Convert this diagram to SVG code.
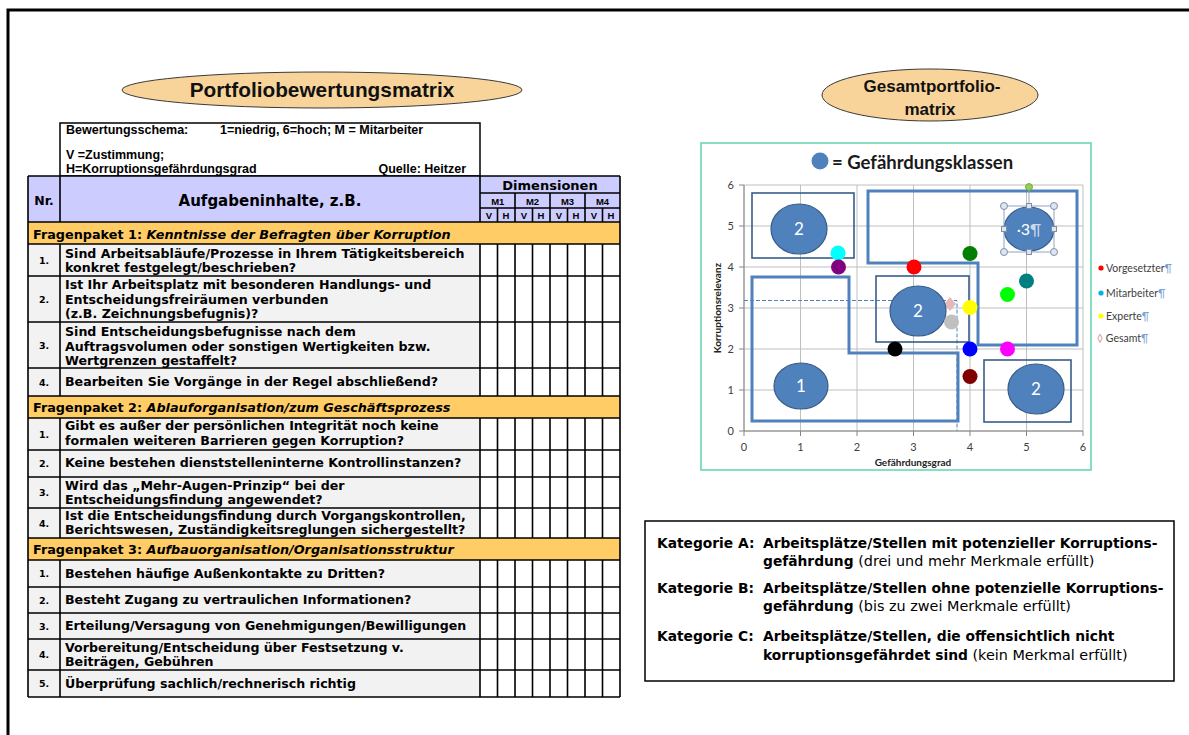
<svg xmlns="http://www.w3.org/2000/svg" width="1189" height="735" viewBox="0 0 1189 735">
<style>
.frame{fill:none;stroke:#000;stroke-width:3}
.ell{fill:#F8D49B;stroke:#3a3a3a;stroke-width:1}
.etitle{font-family:"Liberation Sans",Arial,sans-serif;font-weight:bold;fill:#111;text-anchor:middle}
.hdr{font-family:"Liberation Sans",Arial,sans-serif;font-weight:bold;font-size:12.5px;fill:#000}
.q{font-family:"DejaVu Sans",Verdana,sans-serif;font-weight:bold;font-size:12.6px;fill:#000}
.fp{font-family:"DejaVu Sans",Verdana,sans-serif;font-weight:bold;font-size:12.8px;fill:#000}
.nr{font-family:"DejaVu Sans",Verdana,sans-serif;font-weight:bold;font-size:9.5px;fill:#000;text-anchor:middle}
.small{font-family:"Liberation Sans",Arial,sans-serif;font-weight:bold;font-size:9.5px;fill:#000;text-anchor:middle}
.tl{fill:none;stroke:#000;stroke-width:1.6}
.grid{fill:none;stroke:#BFBFBF;stroke-width:1}
.ax{font-family:Lato,"Liberation Sans",sans-serif;font-size:11px;fill:#404040}
.axt{font-family:Lato,"Liberation Sans",sans-serif;font-size:10px;font-weight:bold;fill:#222;text-anchor:middle}
.thick{fill:none;stroke:#4F81BD;stroke-width:3}
.thin{fill:none;stroke:#385D8A;stroke-width:1.6}
.bub{fill:#4F81BD;stroke:#385D8A;stroke-width:1.2}
.bt{font-family:Lato,"Liberation Sans",sans-serif;font-size:17px;fill:#fff;text-anchor:middle}
.lg{font-family:Lato,"Liberation Sans",sans-serif;font-size:10.5px;fill:#404040}
.pm{fill:#7BA3D6}
.cat{font-family:"DejaVu Sans",Verdana,sans-serif;font-size:13.8px;fill:#000}
.reg{font-size:14.4px}
.b{font-weight:bold}
.hnd{fill:#DCE6F2;stroke:#7F8FA6;stroke-width:1}
</style>

<g id="frame">
<path class="frame" d="M8 735V10H1189"/>
</g>

<g id="title-left">
<ellipse class="ell" cx="322" cy="90" rx="200" ry="18"/>
<text class="etitle" x="322" y="97" font-size="20.8">Portfoliobewertungsmatrix</text>
</g>

<g id="title-right">
<ellipse class="ell" cx="930" cy="95" rx="108" ry="26"/>
<text class="etitle" x="932" y="92" font-size="17">Gesamtportfolio-</text>
<text class="etitle" x="930" y="115" font-size="17">matrix</text>
</g>

<g id="table">
<rect x="60" y="123" width="420" height="53" fill="#fff" stroke="#000" stroke-width="1.5"/>
<text class="hdr" x="66" y="134">Bewertungsschema:</text>
<text class="hdr" x="220" y="134">1=niedrig, 6=hoch; M = Mitarbeiter</text>
<text class="hdr" x="66" y="159">V =Zustimmung;</text>
<text class="hdr" x="66" y="173">H=Korruptionsgefährdungsgrad</text>
<text class="hdr" x="466" y="173" text-anchor="end">Quelle: Heitzer</text>

<rect x="28" y="176" width="592" height="46" fill="#CCCCFF"/>
<rect x="28" y="222" width="592" height="22" fill="#FFCC66"/>
<rect x="28" y="396" width="592" height="22" fill="#FFCC66"/>
<rect x="28" y="538" width="592" height="22" fill="#FFCC66"/>
<rect x="28" y="244" width="452" height="152" fill="#F2F2F2"/>
<rect x="28" y="418" width="452" height="120" fill="#F2F2F2"/>
<rect x="28" y="560" width="452" height="137" fill="#F2F2F2"/>
<rect x="480" y="244" width="140" height="152" fill="#fff"/>
<rect x="480" y="418" width="140" height="120" fill="#fff"/>
<rect x="480" y="560" width="140" height="137" fill="#fff"/>

<path class="tl" d="M28 176H620M28 222H620M28 244H620M28 276H620M28 322H620M28 368H620M28 396H620M28 418H620M28 450H620M28 477H620M28 508H620M28 538H620M28 560H620M28 587H620M28 613H620M28 639H620M28 670H620M28 697H620M480 193H620M480 208H620"/>
<path class="tl" d="M28 176V697M620 176V697"/>
<path class="tl" d="M60 176V222M480 176V222M515 193V222M550 193V222M585 193V222M497.5 208V222M532.5 208V222M567.5 208V222M602.5 208V222"/>
<path class="tl" d="M60 244V396M480 244V396M497.5 244V396M515 244V396M532.5 244V396M550 244V396M567.5 244V396M585 244V396M602.5 244V396
M60 418V538M480 418V538M497.5 418V538M515 418V538M532.5 418V538M550 418V538M567.5 418V538M585 418V538M602.5 418V538
M60 560V697M480 560V697M497.5 560V697M515 560V697M532.5 560V697M550 560V697M567.5 560V697M585 560V697M602.5 560V697"/>

<text class="q" x="44" y="205" text-anchor="middle" style="font-size:12.5px">Nr.</text>
<text class="q" x="270" y="206" text-anchor="middle" style="font-size:15px">Aufgabeninhalte, z.B.</text>
<text class="q" x="550" y="190" text-anchor="middle" style="font-size:13px">Dimensionen</text>
<text class="small" x="497.75" y="205">M1</text>
<text class="small" x="532.5" y="205">M2</text>
<text class="small" x="567.5" y="205">M3</text>
<text class="small" x="602.5" y="205">M4</text>
<text class="small" x="489" y="219">V</text><text class="small" x="506" y="219">H</text>
<text class="small" x="524" y="219">V</text><text class="small" x="541" y="219">H</text>
<text class="small" x="559" y="219">V</text><text class="small" x="576" y="219">H</text>
<text class="small" x="594" y="219">V</text><text class="small" x="611" y="219">H</text>

<text class="fp" x="33" y="239">Fragenpaket 1: <tspan font-style="italic">Kenntnisse der Befragten über Korruption</tspan></text>
<text class="nr" x="44" y="264">1.</text>
<text class="q" x="65" y="258">Sind Arbeitsabläufe/Prozesse in Ihrem Tätigkeitsbereich</text>
<text class="q" x="65" y="272">konkret festgelegt/beschrieben?</text>
<text class="nr" x="44" y="303">2.</text>
<text class="q" x="65" y="289">Ist Ihr Arbeitsplatz mit besonderen Handlungs- und</text>
<text class="q" x="65" y="304">Entscheidungsfreiräumen verbunden</text>
<text class="q" x="65" y="318">(z.B. Zeichnungsbefugnis)?</text>
<text class="nr" x="44" y="349">3.</text>
<text class="q" x="65" y="336">Sind Entscheidungsbefugnisse nach dem</text>
<text class="q" x="65" y="351">Auftragsvolumen oder sonstigen Wertigkeiten bzw.</text>
<text class="q" x="65" y="365">Wertgrenzen gestaffelt?</text>
<text class="nr" x="44" y="386">4.</text>
<text class="q" x="65" y="386">Bearbeiten Sie Vorgänge in der Regel abschließend?</text>

<text class="fp" x="33" y="412">Fragenpaket 2: <tspan font-style="italic">Ablauforganisation/zum Geschäftsprozess</tspan></text>
<text class="nr" x="44" y="438">1.</text>
<text class="q" x="65" y="430">Gibt es außer der persönlichen Integrität noch keine</text>
<text class="q" x="65" y="445">formalen weiteren Barrieren gegen Korruption?</text>
<text class="nr" x="44" y="467">2.</text>
<text class="q" x="65" y="467">Keine bestehen dienststelleninterne Kontrollinstanzen?</text>
<text class="nr" x="44" y="496">3.</text>
<text class="q" x="65" y="490">Wird das „Mehr-Augen-Prinzip“ bei der</text>
<text class="q" x="65" y="504">Entscheidungsfindung angewendet?</text>
<text class="nr" x="44" y="527">4.</text>
<text class="q" x="65" y="520">Ist die Entscheidungsfindung durch Vorgangskontrollen,</text>
<text class="q" x="65" y="534">Berichtswesen, Zuständigkeitsreglungen sichergestellt?</text>

<text class="fp" x="33" y="554">Fragenpaket 3: <tspan font-style="italic">Aufbauorganisation/Organisationsstruktur</tspan></text>
<text class="nr" x="44" y="577">1.</text>
<text class="q" x="65" y="578">Bestehen häufige Außenkontakte zu Dritten?</text>
<text class="nr" x="44" y="604">2.</text>
<text class="q" x="65" y="604">Besteht Zugang zu vertraulichen Informationen?</text>
<text class="nr" x="44" y="630">3.</text>
<text class="q" x="65" y="630">Erteilung/Versagung von Genehmigungen/Bewilligungen</text>
<text class="nr" x="44" y="658">4.</text>
<text class="q" x="65" y="652">Vorbereitung/Entscheidung über Festsetzung v.</text>
<text class="q" x="65" y="666">Beiträgen, Gebühren</text>
<text class="nr" x="44" y="687">5.</text>
<text class="q" x="65" y="688">Überprüfung sachlich/rechnerisch richtig</text>
</g>

<g id="chart">
<rect x="701" y="143" width="390" height="327" fill="#fff" stroke="#5FD3B0" stroke-width="1.5"/>
<circle cx="820" cy="161" r="8.5" fill="#4F81BD"/>
<text x="832" y="169" font-family="Lato,'Liberation Sans',sans-serif" font-weight="bold" font-size="18.5" fill="#1a1a1a">= Gefährdungsklassen</text>

<path class="grid" d="M744 185V431M800.5 185V431M857 185V431M913.5 185V431M970 185V431M1026.5 185V431M1083 185V431M744 185H1083M744 226H1083M744 267H1083M744 308H1083M744 349H1083M744 390H1083M744 431H1083"/>
<path fill="none" stroke="#868686" stroke-width="1" d="M744 185V431H1083M739 185H744M739 226H744M739 267H744M739 308H744M739 349H744M739 390H744M739 431H744M744 431V436M800.5 431V436M857 431V436M913.5 431V436M970 431V436M1026.5 431V436M1083 431V436"/>

<text class="ax" x="734" y="189" text-anchor="end">6</text>
<text class="ax" x="734" y="230" text-anchor="end">5</text>
<text class="ax" x="734" y="271" text-anchor="end">4</text>
<text class="ax" x="734" y="312" text-anchor="end">3</text>
<text class="ax" x="734" y="353" text-anchor="end">2</text>
<text class="ax" x="734" y="394" text-anchor="end">1</text>
<text class="ax" x="734" y="435" text-anchor="end">0</text>
<text class="ax" x="744" y="451" text-anchor="middle">0</text>
<text class="ax" x="800.5" y="451" text-anchor="middle">1</text>
<text class="ax" x="857" y="451" text-anchor="middle">2</text>
<text class="ax" x="913.5" y="451" text-anchor="middle">3</text>
<text class="ax" x="970" y="451" text-anchor="middle">4</text>
<text class="ax" x="1026.5" y="451" text-anchor="middle">5</text>
<text class="ax" x="1083" y="451" text-anchor="middle">6</text>
<text class="axt" x="913" y="466">Gefährdungsgrad</text>
<text class="axt" x="721" y="308" transform="rotate(-90 721 308)">Korruptionsrelevanz</text>

<path fill="none" stroke="#4F81BD" stroke-width="1" stroke-dasharray="4 2" d="M744 300.5H957V431"/>

<path class="thick" d="M868 191H1077V345H978V263H868Z"/>
<path class="thick" d="M752 277H849V353H958V421H752Z"/>
<rect class="thin" x="752" y="193" width="102" height="65"/>
<rect class="thin" x="876" y="276" width="93" height="66"/>
<rect class="thin" x="984" y="360" width="87" height="62"/>

<path d="M950 297L956 304L950 311L944 304Z" fill="#E6B9B8"/>

<ellipse class="bub" cx="799" cy="229" rx="28" ry="25"/>
<text class="bt" x="799" y="235">2</text>
<ellipse class="bub" cx="918" cy="311" rx="28" ry="25"/>
<text class="bt" x="918" y="317">2</text>
<ellipse class="bub" cx="801" cy="386" rx="27" ry="23"/>
<text class="bt" x="801" y="392">1</text>
<ellipse class="bub" cx="1036" cy="389" rx="28" ry="25"/>
<text class="bt" x="1036" y="395">2</text>
<ellipse class="bub" cx="1029" cy="229" rx="25" ry="22"/>
<text class="bt" x="1029" y="235" style="font-size:16px">·3<tspan fill="#C9D9EE">¶</tspan></text>

<g id="selection">
<rect x="1004" y="206" width="50" height="46" fill="none" stroke="#8FA3BF" stroke-width="1"/>
<path d="M1029 190V206" stroke="#8FA3BF" stroke-width="1"/>
<circle cx="1029" cy="187" r="3.5" fill="#92D050" stroke="#6E9A3A" stroke-width="0.8"/>
<circle class="hnd" cx="1004" cy="206" r="3.5"/>
<circle class="hnd" cx="1054" cy="206" r="3.5"/>
<circle class="hnd" cx="1004" cy="252" r="3.5"/>
<circle class="hnd" cx="1054" cy="252" r="3.5"/>
<rect class="hnd" x="1026.5" y="203.5" width="5" height="5"/>
<rect class="hnd" x="1026.5" y="249.5" width="5" height="5"/>
<rect class="hnd" x="1001.5" y="226.5" width="5" height="5"/>
<rect class="hnd" x="1051.5" y="226.5" width="5" height="5"/>
</g>

<circle cx="838" cy="253" r="7.5" fill="#00FFFF"/>
<circle cx="838.5" cy="267" r="7.5" fill="#800080"/>
<circle cx="914" cy="267" r="7.5" fill="#FF0000"/>
<circle cx="970" cy="253.5" r="7.5" fill="#008000"/>
<circle cx="1026.5" cy="281" r="7.5" fill="#008080"/>
<circle cx="1007.5" cy="294.5" r="7.5" fill="#00FF00"/>
<circle cx="970" cy="307.5" r="7.5" fill="#FFFF00"/>
<circle cx="951.5" cy="322" r="7.5" fill="#C0C0C0"/>
<circle cx="895" cy="349" r="7.5" fill="#000000"/>
<circle cx="970" cy="349" r="7.5" fill="#0000FF"/>
<circle cx="1007.5" cy="349" r="7.5" fill="#FF00FF"/>
<circle cx="970" cy="376.5" r="7.5" fill="#800000"/>
</g>

<g id="legend">
<circle cx="1101" cy="268" r="2.6" fill="#FF0000"/>
<text class="lg" x="1106" y="271.5">Vorgesetzter<tspan class="pm">¶</tspan></text>
<circle cx="1101" cy="293" r="2.6" fill="#00B0F0"/>
<text class="lg" x="1106" y="296.5">Mitarbeiter<tspan class="pm">¶</tspan></text>
<circle cx="1101" cy="316" r="2.6" fill="#FFFF00"/>
<text class="lg" x="1106" y="319.5">Experte<tspan class="pm">¶</tspan></text>
<text class="lg" x="1097" y="341.5"><tspan fill="#D99694">◊</tspan> Gesamt<tspan class="pm">¶</tspan></text>
</g>

<g id="categories">
<rect x="645" y="521" width="529" height="160" fill="#fff" stroke="#000" stroke-width="1.5"/>
<text class="cat b" x="657" y="548">Kategorie A:</text>
<text class="cat b" x="763" y="548">Arbeitsplätze/Stellen mit potenzieller Korruptions-</text>
<text class="cat" x="763" y="566"><tspan class="b">gefährdung</tspan><tspan class="reg"> (drei und mehr Merkmale erfüllt)</tspan></text>
<text class="cat b" x="657" y="593">Kategorie B:</text>
<text class="cat b" x="763" y="593">Arbeitsplätze/Stellen ohne potenzielle Korruptions-</text>
<text class="cat" x="763" y="611"><tspan class="b">gefährdung</tspan><tspan class="reg"> (bis zu zwei Merkmale erfüllt)</tspan></text>
<text class="cat b" x="657" y="641">Kategorie C:</text>
<text class="cat b" x="763" y="641">Arbeitsplätze/Stellen, die offensichtlich nicht</text>
<text class="cat" x="763" y="660"><tspan class="b">korruptionsgefährdet sind</tspan><tspan class="reg"> (kein Merkmal erfüllt)</tspan></text>
</g>
</svg>
